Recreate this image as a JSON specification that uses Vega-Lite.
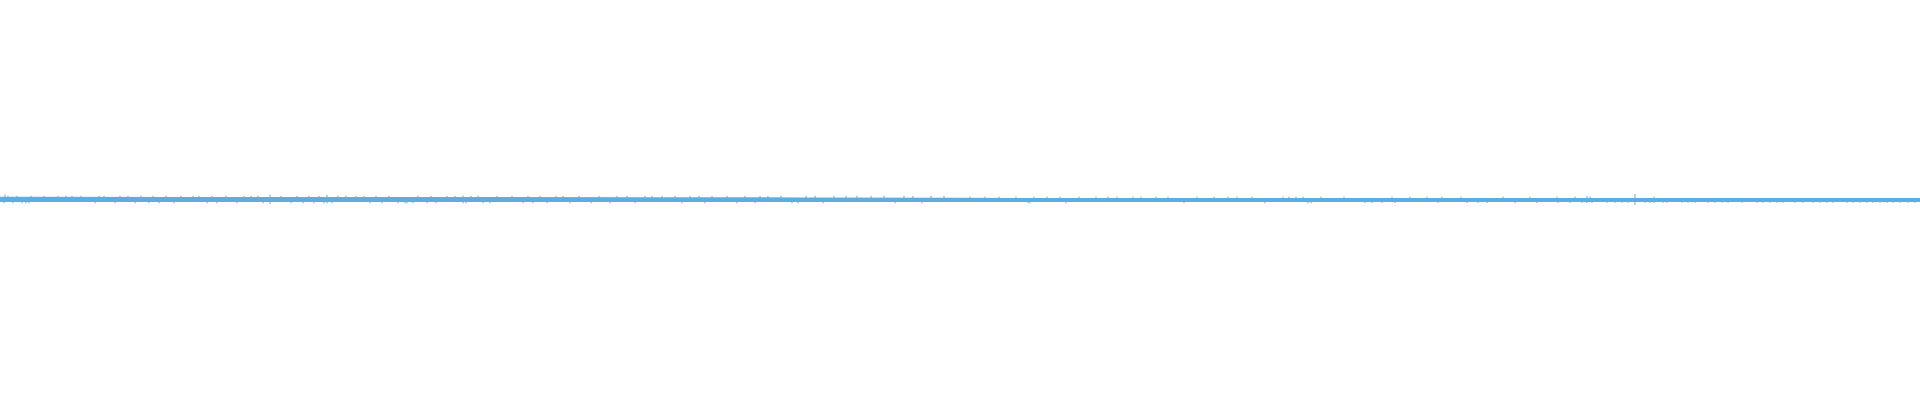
{
  "$schema": "https://vega.github.io/schema/vega-lite/v6.json",
  "width": 1920,
  "height": 400,
  "autosize": {"type": "fit", "contains": "padding"},
  "padding": 0,
  "background": "white",
  "config": {"view": {"stroke": null}},
  "datasets": {
    "band": [
      {"x": 0, "hi": 3.2, "lo": -2.1},
      {"x": 200, "hi": 3.1, "lo": -2.1},
      {"x": 400, "hi": 3.0, "lo": -2.0},
      {"x": 640, "hi": 2.8, "lo": -2.0},
      {"x": 800, "hi": 2.6, "lo": -2.0},
      {"x": 960, "hi": 2.2, "lo": -2.0},
      {"x": 1100, "hi": 2.0, "lo": -2.0},
      {"x": 1400, "hi": 2.0, "lo": -2.0},
      {"x": 1700, "hi": 2.0, "lo": -2.0},
      {"x": 1920, "hi": 2.0, "lo": -2.0}
    ],
    "ticks": [
      {"x": 8, "hi": 4.2}, {"x": 17, "hi": 4.2}, {"x": 31, "hi": 4.2}, {"x": 44, "hi": 4.2},
      {"x": 58, "hi": 4.2}, {"x": 66, "hi": 4.2}, {"x": 72, "hi": 4.2}, {"x": 81, "hi": 4.2},
      {"x": 99, "hi": 4.2}, {"x": 104, "hi": 4.2}, {"x": 120, "hi": 4.2}, {"x": 128, "hi": 4.2},
      {"x": 141, "hi": 4.2}, {"x": 153, "hi": 4.2}, {"x": 166, "hi": 4.2}, {"x": 181, "hi": 4.2},
      {"x": 193, "hi": 4.2}, {"x": 199, "hi": 4.2}, {"x": 212, "hi": 4.2}, {"x": 226, "hi": 4.2},
      {"x": 244, "hi": 4.2}, {"x": 251, "hi": 4.2}, {"x": 258, "hi": 4.2}, {"x": 281, "hi": 4.2},
      {"x": 297, "hi": 4.2}, {"x": 309, "hi": 4.2}, {"x": 319, "hi": 4.2}, {"x": 338, "hi": 4.2},
      {"x": 346, "hi": 4.2}, {"x": 356, "hi": 4.2}, {"x": 364, "hi": 4.2}, {"x": 376, "hi": 4.2},
      {"x": 389, "hi": 4.2}, {"x": 418, "hi": 4.2}, {"x": 431, "hi": 4.2}, {"x": 447, "hi": 4.2},
      {"x": 455, "hi": 4.2}, {"x": 471, "hi": 4.2}, {"x": 478, "hi": 4.2}, {"x": 497, "hi": 4.2},
      {"x": 512, "hi": 4.2}, {"x": 528, "hi": 4.2}, {"x": 540, "hi": 4.2}, {"x": 556, "hi": 4.2},
      {"x": 563, "hi": 4.2}, {"x": 579, "hi": 4.2}, {"x": 599, "hi": 4.2}, {"x": 617, "hi": 4.2},
      {"x": 627, "hi": 4.2}, {"x": 645, "hi": 4.2}, {"x": 652, "hi": 4.2}, {"x": 662, "hi": 4.2},
      {"x": 675, "hi": 4.2}, {"x": 690, "hi": 4.2}, {"x": 699, "hi": 4.2}, {"x": 712, "hi": 4.2},
      {"x": 727, "hi": 4.2}, {"x": 745, "hi": 4.2}, {"x": 760, "hi": 4.2}, {"x": 768, "hi": 4.2},
      {"x": 781, "hi": 4.2}, {"x": 806, "hi": 4.2}, {"x": 815, "hi": 4.2}, {"x": 834, "hi": 4.2},
      {"x": 846, "hi": 4.2}, {"x": 857, "hi": 4.2}, {"x": 871, "hi": 4.2}, {"x": 884, "hi": 4.2},
      {"x": 904, "hi": 4.2}, {"x": 913, "hi": 4.2}, {"x": 931, "hi": 4.2}, {"x": 944, "hi": 4.2},
      {"x": 970, "hi": 3.4}, {"x": 985, "hi": 3.4}, {"x": 999, "hi": 3.4}, {"x": 1016, "hi": 3.4},
      {"x": 1034, "hi": 3.4}, {"x": 1047, "hi": 3.4}, {"x": 1060, "hi": 3.4}, {"x": 1079, "hi": 3.4},
      {"x": 1096, "hi": 3.4}, {"x": 1108, "hi": 3.4}, {"x": 1117, "hi": 3.4}, {"x": 1133, "hi": 3.4},
      {"x": 1141, "hi": 3.4}, {"x": 1156, "hi": 3.4}, {"x": 1168, "hi": 3.4}, {"x": 1197, "hi": 3.4},
      {"x": 1214, "hi": 3.4}, {"x": 1228, "hi": 3.4}, {"x": 1237, "hi": 3.4}, {"x": 1252, "hi": 3.4},
      {"x": 1283, "hi": 3.4}, {"x": 1289, "hi": 3.4}, {"x": 1296, "hi": 3.4}, {"x": 1303, "hi": 3.4},
      {"x": 1321, "hi": 3.4}, {"x": 1344, "hi": 3.4}, {"x": 1392, "hi": 3.4}, {"x": 1410, "hi": 3.4},
      {"x": 1427, "hi": 3.4}, {"x": 1442, "hi": 3.4}, {"x": 1461, "hi": 3.4}, {"x": 1503, "hi": 3.4},
      {"x": 1530, "hi": 3.4}, {"x": 1557, "hi": 3.4}, {"x": 1575, "hi": 3.4}, {"x": 1590, "hi": 3.4}
    ],
    "spikes": [
      {"x": 4, "lo": -3.3, "hi": 0, "series": "a"},
      {"x": 5, "lo": 0, "hi": 5.5, "series": "a"},
      {"x": 13, "lo": -3.3, "hi": 0, "series": "a"},
      {"x": 22, "lo": -3.3, "hi": 0, "series": "a"},
      {"x": 26, "lo": -3.3, "hi": 0, "series": "a"},
      {"x": 29, "lo": -3.3, "hi": 0, "series": "a"},
      {"x": 95, "lo": -3.3, "hi": 0, "series": "a"},
      {"x": 115, "lo": -3.3, "hi": 0, "series": "a"},
      {"x": 135, "lo": -3.3, "hi": 0, "series": "a"},
      {"x": 149, "lo": -3.3, "hi": 0, "series": "a"},
      {"x": 159, "lo": -3.3, "hi": 0, "series": "a"},
      {"x": 174, "lo": -3.3, "hi": 0, "series": "a"},
      {"x": 207, "lo": -3.3, "hi": 0, "series": "a"},
      {"x": 217, "lo": -3.3, "hi": 0, "series": "a"},
      {"x": 237, "lo": -3.3, "hi": 0, "series": "a"},
      {"x": 263, "lo": -3.3, "hi": 0, "series": "a"},
      {"x": 270, "lo": -4.0, "hi": 5.5, "series": "a"},
      {"x": 291, "lo": -3.3, "hi": 0, "series": "a"},
      {"x": 303, "lo": -3.3, "hi": 0, "series": "a"},
      {"x": 314, "lo": -3.3, "hi": 0, "series": "a"},
      {"x": 324, "lo": -3.3, "hi": 0, "series": "a"},
      {"x": 327, "lo": -3.3, "hi": 5.2, "series": "a"},
      {"x": 332, "lo": -3.3, "hi": 0, "series": "a"},
      {"x": 370, "lo": -3.3, "hi": 0, "series": "a"},
      {"x": 382, "lo": -3.3, "hi": 0, "series": "a"},
      {"x": 398, "lo": -3.3, "hi": 0, "series": "a"},
      {"x": 405, "lo": -3.3, "hi": 0, "series": "a"},
      {"x": 407, "lo": -3.3, "hi": 0, "series": "a"},
      {"x": 413, "lo": -3.3, "hi": 0, "series": "a"},
      {"x": 427, "lo": -3.3, "hi": 0, "series": "a"},
      {"x": 436, "lo": -3.3, "hi": 0, "series": "a"},
      {"x": 463, "lo": -3.3, "hi": 4.5, "series": "a"},
      {"x": 466, "lo": -3.3, "hi": 0, "series": "a"},
      {"x": 483, "lo": -3.3, "hi": 0, "series": "a"},
      {"x": 490, "lo": -3.3, "hi": 0, "series": "a"},
      {"x": 523, "lo": -3.3, "hi": 0, "series": "a"},
      {"x": 533, "lo": -3.3, "hi": 0, "series": "a"},
      {"x": 547, "lo": -3.3, "hi": 0, "series": "a"},
      {"x": 570, "lo": -3.3, "hi": 0, "series": "a"},
      {"x": 591, "lo": -3.3, "hi": 0, "series": "a"},
      {"x": 610, "lo": -3.3, "hi": 0, "series": "a"},
      {"x": 635, "lo": -3.3, "hi": 0, "series": "a"},
      {"x": 682, "lo": -3.3, "hi": 0, "series": "a"},
      {"x": 705, "lo": -3.3, "hi": 0, "series": "a"},
      {"x": 737, "lo": -3.3, "hi": 0, "series": "a"},
      {"x": 755, "lo": -3.3, "hi": 0, "series": "a"},
      {"x": 792, "lo": -3.3, "hi": 0, "series": "a"},
      {"x": 798, "lo": -3.3, "hi": 0, "series": "a"},
      {"x": 823, "lo": -3.3, "hi": 0, "series": "a"},
      {"x": 895, "lo": -3.3, "hi": 0, "series": "a"},
      {"x": 922, "lo": -3.3, "hi": 0, "series": "a"},
      {"x": 1028, "lo": -3.3, "hi": 0, "series": "a"},
      {"x": 1030, "lo": -3.3, "hi": 0, "series": "a"},
      {"x": 1066, "lo": -3.3, "hi": 0, "series": "a"},
      {"x": 1184, "lo": -3.3, "hi": 0, "series": "a"},
      {"x": 1265, "lo": -3.3, "hi": 0, "series": "a"},
      {"x": 1308, "lo": -3.3, "hi": 0, "series": "a"},
      {"x": 1311, "lo": -3.3, "hi": 0, "series": "a"},
      {"x": 1365, "lo": -3.0, "hi": 0, "series": "a"},
      {"x": 1372, "lo": -3.0, "hi": 0, "series": "a"},
      {"x": 1382, "lo": -3.0, "hi": 0, "series": "a"},
      {"x": 1395, "lo": -3.0, "hi": 0, "series": "a"},
      {"x": 1438, "lo": -3.0, "hi": 0, "series": "a"},
      {"x": 1467, "lo": -3.0, "hi": 0, "series": "a"},
      {"x": 1478, "lo": -3.0, "hi": 0, "series": "a"},
      {"x": 1487, "lo": -3.0, "hi": 0, "series": "a"},
      {"x": 1515, "lo": -3.3, "hi": 0, "series": "a"},
      {"x": 1537, "lo": -3.0, "hi": 0, "series": "a"},
      {"x": 1558, "lo": -3.0, "hi": 0, "series": "a"},
      {"x": 1570, "lo": -3.0, "hi": 0, "series": "a"},
      {"x": 1582, "lo": -3.0, "hi": 0, "series": "a"},
      {"x": 1587, "lo": -3.3, "hi": 4.0, "series": "a"},
      {"x": 1592, "lo": -3.0, "hi": 0, "series": "a"},
      {"x": 1607, "lo": -2.8, "hi": 0, "series": "a"},
      {"x": 1615, "lo": -2.8, "hi": 0, "series": "a"},
      {"x": 1622, "lo": -2.8, "hi": 0, "series": "a"},
      {"x": 1628, "lo": -2.8, "hi": 0, "series": "a"},
      {"x": 1635, "lo": -4.8, "hi": 6.0, "series": "b"},
      {"x": 1645, "lo": -2.8, "hi": 0, "series": "a"},
      {"x": 1650, "lo": -2.8, "hi": 0, "series": "a"},
      {"x": 1654, "lo": -2.8, "hi": 3.3, "series": "a"},
      {"x": 1663, "lo": -2.8, "hi": 0, "series": "a"},
      {"x": 1667, "lo": -2.8, "hi": 0, "series": "a"},
      {"x": 1682, "lo": -2.8, "hi": 0, "series": "a"},
      {"x": 1688, "lo": -2.8, "hi": 0, "series": "a"},
      {"x": 1695, "lo": -2.8, "hi": 0, "series": "a"},
      {"x": 1708, "lo": -2.8, "hi": 0, "series": "a"},
      {"x": 1715, "lo": -2.8, "hi": 0, "series": "a"},
      {"x": 1722, "lo": -2.8, "hi": 0, "series": "a"},
      {"x": 1728, "lo": -2.8, "hi": 0, "series": "a"},
      {"x": 1742, "lo": -2.8, "hi": 0, "series": "a"},
      {"x": 1757, "lo": -2.8, "hi": 0, "series": "a"},
      {"x": 1763, "lo": -2.8, "hi": 0, "series": "a"},
      {"x": 1770, "lo": -2.8, "hi": 0, "series": "a"},
      {"x": 1777, "lo": -2.8, "hi": 0, "series": "a"},
      {"x": 1783, "lo": -2.8, "hi": 0, "series": "a"},
      {"x": 1795, "lo": -2.8, "hi": 0, "series": "a"},
      {"x": 1803, "lo": -2.8, "hi": 0, "series": "a"},
      {"x": 1813, "lo": -2.8, "hi": 0, "series": "a"},
      {"x": 1820, "lo": -2.8, "hi": 0, "series": "a"},
      {"x": 1827, "lo": -2.8, "hi": 0, "series": "a"},
      {"x": 1833, "lo": -2.8, "hi": 0, "series": "a"},
      {"x": 1847, "lo": -2.8, "hi": 0, "series": "a"},
      {"x": 1853, "lo": -2.8, "hi": 0, "series": "a"},
      {"x": 1860, "lo": -2.8, "hi": 0, "series": "a"},
      {"x": 1867, "lo": -2.8, "hi": 0, "series": "a"},
      {"x": 1873, "lo": -2.8, "hi": 0, "series": "a"},
      {"x": 1880, "lo": -2.8, "hi": 0, "series": "a"},
      {"x": 1887, "lo": -2.8, "hi": 0, "series": "a"},
      {"x": 1893, "lo": -2.8, "hi": 0, "series": "a"},
      {"x": 1900, "lo": -2.8, "hi": 0, "series": "a"},
      {"x": 1908, "lo": -2.8, "hi": 0, "series": "a"},
      {"x": 1915, "lo": -2.8, "hi": 0, "series": "a"}
    ]
  },
  "layer": [
    {
      "data": {"name": "band"},
      "mark": {"type": "area", "color": "#5DADE2", "interpolate": "linear"},
      "encoding": {
        "x": {"field": "x", "type": "quantitative", "scale": {"domain": [0, 1920], "nice": false, "zero": false}, "axis": null},
        "y": {"field": "hi", "type": "quantitative", "scale": {"domain": [-200, 200], "nice": false, "zero": false}, "axis": null},
        "y2": {"field": "lo"}
      }
    },
    {
      "data": {"name": "ticks"},
      "mark": {"type": "rule", "strokeWidth": 1, "color": "#5DADE2"},
      "encoding": {
        "x": {"field": "x", "type": "quantitative"},
        "y": {"field": "hi", "type": "quantitative"},
        "y2": {"datum": 0}
      }
    },
    {
      "data": {"name": "spikes"},
      "mark": {"type": "rule", "strokeWidth": 1},
      "encoding": {
        "x": {"field": "x", "type": "quantitative"},
        "y": {"field": "hi", "type": "quantitative"},
        "y2": {"field": "lo"},
        "color": {
          "field": "series",
          "type": "nominal",
          "scale": {"domain": ["a", "b"], "range": ["#5DADE2", "#8C9AA6"]},
          "legend": null
        }
      }
    }
  ]
}
